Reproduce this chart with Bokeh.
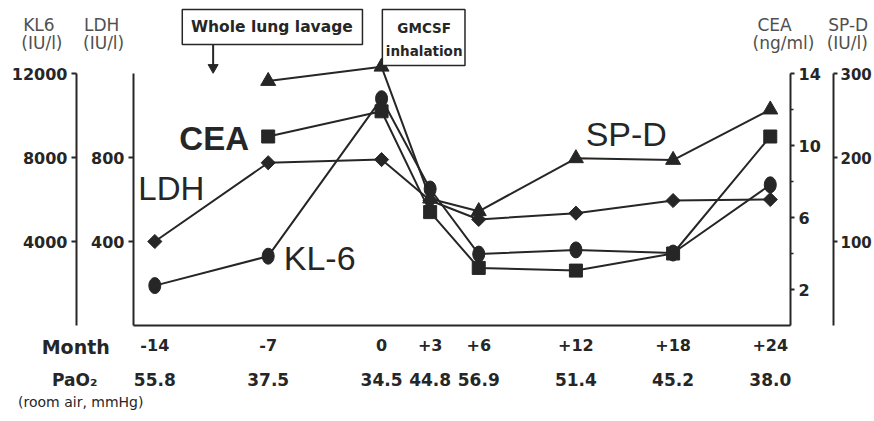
import numpy as np
from bokeh.plotting import figure
from bokeh.models import Range1d, LinearAxis, FixedTicker
from bokeh.core.properties import value
from bokeh.embed import file_html
from bokeh.resources import INLINE

# ---------------- data ----------------
months = [-14, -7, 0, 3, 6, 12, 18, 24]
month_labels = ["-14", "-7", "0", "+3", "+6", "+12", "+18", "+24"]
pao2 = ["55.8", "37.5", "34.5", "44.8", "56.9", "51.4", "45.2", "38.0"]
kl6 = [1900, 3300, 10800, 6500, 3400, 3600, 3450, 6700]          # IU/l
ldh = [400, 775, 790, 595, 505, 535, 595, 600]                    # IU/l
cea_months = [-7, 0, 3, 6, 12, 18, 24]
cea = [10.5, 11.9, 6.3, 3.2, 3.05, 4.0, 10.5]                     # ng/ml
spd_months = [-7, 0, 3, 6, 12, 18, 24]
spd = [291, 308, 151, 136, 199, 197, 257]                         # IU/l

kl6_ticks = [4000, 8000, 12000]
ldh_ticks = [400, 800]
cea_ticks = [2, 6, 10, 14]
cea_minor = [4, 8, 12]
spd_ticks = [100, 200, 300]

# ---------------- layout ----------------
W, H = 874, 421
FL, FR, FT, FB = 133, 793, 73, 325
X0PIX, PXM = 382.2, 16.27
INK = "#262626"
GRAY = "#505050"

x_start = (FL - X0PIX) / PXM
x_end = (FR - X0PIX) / PXM

p = figure(width=W, height=H, output_backend="svg", toolbar_location=None, title=None,
           x_range=Range1d(x_start, x_end), y_range=Range1d(0, 12000),
           x_axis_location=None, y_axis_location=None,
           min_border_left=FL, min_border_right=W - FR,
           min_border_top=FT, min_border_bottom=H - FB)
p.extra_y_ranges = {"ldh": Range1d(0, 1200), "cea": Range1d(0, 14), "spd": Range1d(0, 300)}
p.outline_line_color = None
p.background_fill_color = "white"
p.border_fill_color = "white"
for g in p.grid:
    g.visible = False


def style_axis(ax, size="16px"):
    ax.axis_line_width = 2
    ax.axis_line_color = INK
    ax.major_tick_line_width = 2
    ax.major_tick_line_color = INK
    ax.minor_tick_line_width = 1.5
    ax.minor_tick_line_color = INK
    ax.major_tick_in = 0
    ax.minor_tick_in = 0
    ax.major_label_text_font = "DejaVu Sans"
    ax.major_label_text_font_style = "bold"
    ax.major_label_text_font_size = size
    ax.major_label_text_color = INK


ldh_axis = LinearAxis(y_range_name="ldh", ticker=FixedTicker(ticks=ldh_ticks),
                      major_tick_out=5, minor_tick_out=0, major_label_standoff=4,
                      axis_label=" ", axis_label_standoff=0, axis_label_text_font_size="8px")
style_axis(ldh_axis)
kl6_axis = LinearAxis(ticker=FixedTicker(ticks=kl6_ticks),
                      major_tick_out=5, minor_tick_out=0, major_label_standoff=4)
style_axis(kl6_axis)
p.add_layout(ldh_axis, "left")
p.add_layout(kl6_axis, "left")

cea_axis = LinearAxis(y_range_name="cea", ticker=FixedTicker(ticks=cea_ticks, minor_ticks=cea_minor),
                      major_tick_out=4, minor_tick_out=3, major_label_standoff=4,
                      axis_label=" ", axis_label_standoff=0, axis_label_text_font_size="7px")
style_axis(cea_axis)
spd_axis = LinearAxis(y_range_name="spd", ticker=FixedTicker(ticks=spd_ticks),
                      major_tick_out=4, minor_tick_out=0, major_label_standoff=3)
style_axis(spd_axis, "15px")
p.add_layout(cea_axis, "right")
p.add_layout(spd_axis, "right")

month_axis = LinearAxis(ticker=FixedTicker(ticks=months),
                        major_label_overrides={m: t for m, t in zip(months, month_labels)},
                        major_tick_out=0, minor_tick_out=0, major_label_standoff=13)
style_axis(month_axis)
pao2_axis = LinearAxis(ticker=FixedTicker(ticks=months),
                       major_label_overrides={m: t for m, t in zip(months, pao2)},
                       major_tick_out=0, minor_tick_out=0, major_label_standoff=19)
style_axis(pao2_axis, "17px")
pao2_axis.axis_line_color = None
p.add_layout(month_axis, "below")
p.add_layout(pao2_axis, "below")

# ---------------- series ----------------
p.line(months, kl6, line_width=2, line_color=INK)
p.ellipse(x=months, y=kl6, width=12, height=16, width_units="screen", height_units="screen",
          fill_color=INK, line_color=INK)

p.line(months, ldh, y_range_name="ldh", line_width=2, line_color=INK)
p.scatter(months, ldh, y_range_name="ldh", marker="square", angle=np.pi / 4, size=10,
          fill_color=INK, line_color=INK)

p.line(cea_months, cea, y_range_name="cea", line_width=2, line_color=INK)
p.scatter(cea_months, cea, y_range_name="cea", marker="square", size=13,
          fill_color=INK, line_color=INK)

p.line(spd_months, spd, y_range_name="spd", line_width=2, line_color=INK, level="overlay")
p.scatter(spd_months, spd, y_range_name="spd", marker="triangle", size=15,
          fill_color=INK, line_color=INK, level="overlay")


# ---------------- annotations (drawn unclipped, overlay level) ----------------
def to_data(X, Y):
    return (X - X0PIX) / PXM, (FB - Y) * 12000.0 / (FB - FT)


def add_text(X, Y, txt, size, font="DejaVu Sans", style="normal", color=INK, align="center"):
    x, y = to_data(X, Y)
    p.text(x=[x], y=[y], text=[txt], text_font=value(font), text_font_size=value(size),
           text_font_style=style, text_color=color, text_align=align,
           text_baseline="middle", level="overlay")


def add_box(X0, Y0, X1, Y1):
    l, t = to_data(X0, Y0)
    r, b = to_data(X1, Y1)
    p.quad(left=[l], right=[r], top=[t], bottom=[b], fill_color="white",
           line_color=INK, line_width=1.5, level="overlay")


# series names
add_text(214, 138, "CEA", "33px", font="Liberation Sans", style="bold")
add_text(171, 188, "LDH", "33px", font="Liberation Sans")
add_text(320, 257, "KL-6", "34px", font="Liberation Sans")
add_text(628, 133, "SP-D", "34px", font="Liberation Sans")

# axis titles
add_text(38, 24, "KL6", "17px", color=GRAY)
add_text(41, 42, "(IU/l)", "17px", color=GRAY)
add_text(101, 24, "LDH", "17px", color=GRAY)
add_text(103, 42, "(IU/l)", "17px", color=GRAY)
add_text(777, 24, "CEA", "17px", color=GRAY)
add_text(786, 42, "(ng/ml)", "17px", color=GRAY)
add_text(851, 24, "SP-D", "17px", color=GRAY)
add_text(850, 42, "(IU/l)", "17px", color=GRAY)

# bottom row labels
add_text(75, 346, "Month", "19px", style="bold")
add_text(74, 379, "PaO\u2082", "17px", style="bold")
add_text(80, 401, "(room air, mmHg)", "14px")

# treatment boxes
add_box(182, 9, 363, 44)
add_text(272, 26, "Whole lung lavage", "15.5px", style="bold")
add_box(383, 9, 466, 65)
add_text(425, 27, "GMCSF", "13.5px", style="bold")
add_text(425, 50, "inhalation", "13.5px", style="bold")

ax0, ay0 = to_data(213, 44)
ax1, ay1 = to_data(213, 67)
p.segment(x0=[ax0], y0=[ay0], x1=[ax1], y1=[ay1], line_width=2, line_color=INK, level="overlay")
p.scatter(x=[ax1], y=[ay1], marker="inverted_triangle", size=10, fill_color=INK,
          line_color=INK, level="overlay")

open("out.html", "w").write(file_html(p, INLINE))
